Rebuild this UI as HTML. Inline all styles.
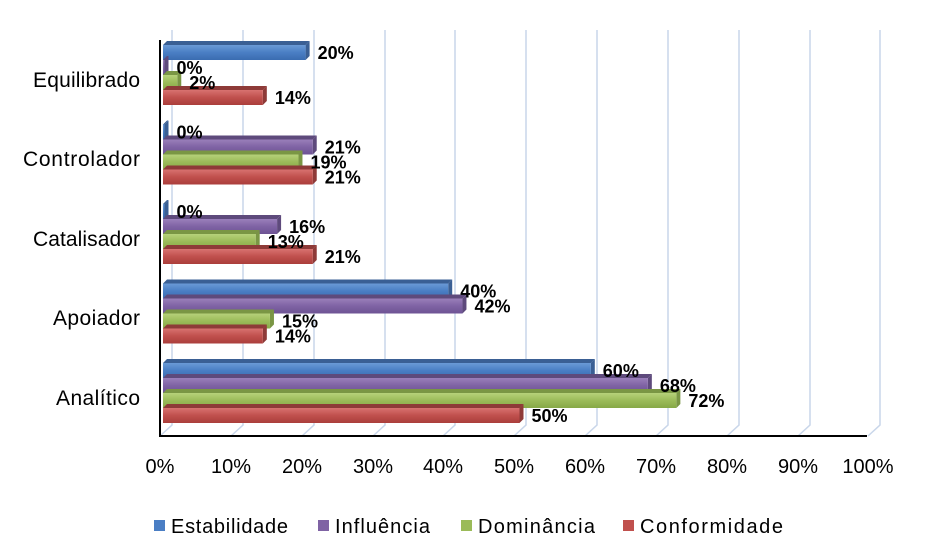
<!DOCTYPE html>
<html><head><meta charset="utf-8"><style>
body{margin:0;background:#fff;width:945px;height:549px;overflow:hidden}
text{font-family:"Liberation Sans",sans-serif}
</style></head><body>
<svg width="945" height="549" xmlns="http://www.w3.org/2000/svg">
<defs>
<linearGradient id="gb" x1="0" y1="0" x2="0" y2="1"><stop offset="0" stop-color="#6a9ad6"/><stop offset=".5" stop-color="#4a7ec4"/><stop offset="1" stop-color="#3a6cb0"/></linearGradient>
<linearGradient id="gp" x1="0" y1="0" x2="0" y2="1"><stop offset="0" stop-color="#9a7fba"/><stop offset=".5" stop-color="#7f63a4"/><stop offset="1" stop-color="#6d5394"/></linearGradient>
<linearGradient id="gg" x1="0" y1="0" x2="0" y2="1"><stop offset="0" stop-color="#b6d17a"/><stop offset=".5" stop-color="#9bbb59"/><stop offset="1" stop-color="#86a846"/></linearGradient>
<linearGradient id="gr" x1="0" y1="0" x2="0" y2="1"><stop offset="0" stop-color="#d87270"/><stop offset=".5" stop-color="#c0504d"/><stop offset="1" stop-color="#aa3e3b"/></linearGradient>
</defs>
<g stroke="#c9d6ea" stroke-width="1.5" fill="none">
<polyline points="172,30 172,425 160,436"/><polyline points="243,30 243,425 231,436"/><polyline points="314,30 314,425 302,436"/><polyline points="385,30 385,425 373,436"/><polyline points="455,30 455,425 443,436"/><polyline points="526,30 526,425 514,436"/><polyline points="597,30 597,425 585,436"/><polyline points="668,30 668,425 656,436"/><polyline points="739,30 739,425 727,436"/><polyline points="810,30 810,425 798,436"/><polyline points="880,30 880,425 868,436"/>
</g>
<g id="bars"></g>
<line x1="160" y1="40" x2="160" y2="437" stroke="#000" stroke-width="2"/>
<line x1="159" y1="436" x2="867" y2="436" stroke="#000" stroke-width="2"/>
<g font-size="21" fill="#000" text-anchor="end">
<text x="140" y="87" textLength="107">Equilibrado</text><text x="140" y="166" textLength="117">Controlador</text><text x="140" y="246" textLength="107">Catalisador</text><text x="140" y="325" textLength="87">Apoiador</text><text x="140" y="405" textLength="84">Analítico</text>
</g>
<g font-size="20" fill="#000" text-anchor="middle">
<text x="160" y="473">0%</text><text x="231" y="473">10%</text><text x="302" y="473">20%</text><text x="373" y="473">30%</text><text x="443" y="473">40%</text><text x="514" y="473">50%</text><text x="585" y="473">60%</text><text x="656" y="473">70%</text><text x="727" y="473">80%</text><text x="798" y="473">90%</text><text x="868" y="473">100%</text>
</g>
<g font-size="20" fill="#000">
<rect x="154" y="520" width="11" height="11" fill="#4a7ec4"/><text x="171" y="533" textLength="117">Estabilidade</text>
<rect x="318" y="520" width="11" height="11" fill="#7f63a4"/><text x="335" y="533" textLength="95">Influência</text>
<rect x="461" y="520" width="11" height="11" fill="#9bbb59"/><text x="478" y="533" textLength="117">Dominância</text>
<rect x="623" y="520" width="11" height="11" fill="#c0504d"/><text x="640" y="533" textLength="143">Conformidade</text>
</g>
<g id="labels" font-size="18" font-weight="bold" fill="#000"></g>
</svg>
<script>
var data=[[20,0,2,14],[0,21,19,21],[0,16,13,21],[40,42,15,14],[60,68,72,50]];
var fills=["url(#gb)","url(#gp)","url(#gg)","url(#gr)"];
var tops=["#3a5f94","#5e4a7c","#7a9644","#8e3a38"];
var ns="http://www.w3.org/2000/svg",b=document.getElementById("bars"),l=document.getElementById("labels");
function el(t,a,p){var e=document.createElementNS(ns,t);for(var k in a)e.setAttribute(k,a[k]);p.appendChild(e);return e;}
for(var c=0;c<5;c++){var y0=45+c*79.5;for(var s=0;s<4;s++){var v=data[c][s],y=y0+s*15,w=Math.max(v*7.13,1.5),x=163;
el("polygon",{points:x+","+y+" "+(x+4)+","+(y-4)+" "+(x+w+4)+","+(y-4)+" "+(x+w)+","+y,fill:tops[s]},b);
el("polygon",{points:(x+w)+","+y+" "+(x+w+4)+","+(y-4)+" "+(x+w+4)+","+(y+11)+" "+(x+w)+","+(y+15),fill:tops[s]},b);
el("rect",{x:x,y:y,width:w,height:15,fill:fills[s]},b);
var t=el("text",{x:x+w+12,y:y+14},l);t.textContent=v+"%";}}
</script>
</body></html>
